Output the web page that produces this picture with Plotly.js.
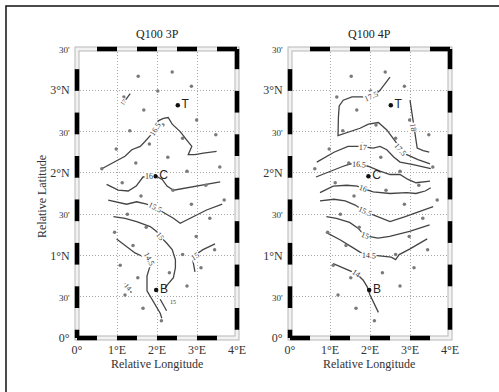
<!DOCTYPE html>
<html>
<head>
<meta charset="utf-8">
<script src="https://cdn.plot.ly/plotly-3.0.1.min.js"></script>
<style>html,body{margin:0;padding:0;background:#fff;}#chart{width:499px;height:392px;}</style>
</head>
<body>
<div id="chart"></div>
<script>
// ---------- data ----------
const lonTicks = [0, 1, 2, 3, 4];
const lonLabels = ['0°', '1°E', '2°E', '3°E', '4°E'];
const latTicks = [0, 0.5, 1, 1.5, 2, 2.5, 3, 3.5];
const latLabels = ['0°', "30'", '1°N', "30'", '2°N', "30'", '3°N', "30'"];

const panelTitles = ['Q100 3P', 'Q100 4P'];

// observation stations (same network in both panels)
const stationLon = [1.53,2.38,2.86,2.02,1.17,1.67,2.99,2.15,1.32,3.47,1.81,0.98,2.27,1.47,3.57,2.75,1.13,3.22,2.40,1.60,2.86,3.68,1.26,3.32,0.94,1.73,2.98,1.40,2.64,3.44,1.08,3.10,2.31,1.52,2.75,1.20,1.65,2.11,2.64,0.62];
const stationLat = [3.17,3.22,3.05,2.99,2.92,2.76,2.64,2.58,2.51,2.46,2.35,2.29,2.19,2.12,2.07,2.02,1.88,1.85,1.79,1.72,1.62,1.67,1.50,1.45,1.28,1.34,1.23,1.12,1.01,1.07,0.88,0.85,0.79,0.73,0.63,0.52,0.36,0.21,2.42,2.05];

// named sites
const siteNames = ['T', 'C', 'B'];
const siteLon = [2.52, 1.96, 1.98];
const siteLat = [2.82, 1.96, 0.58];

// ---- Q100 3P contours ----
const p3_c165_lon = [0.62,0.91,1.2,1.37,1.58,1.7,1.83,1.95,2.03,2.16,2.28,2.38,2.58,2.74,2.87,2.78,2.95,3.16,3.49];
const p3_c165_lat = [2.05,2.12,2.2,2.28,2.32,2.38,2.45,2.53,2.63,2.66,2.67,2.59,2.5,2.4,2.32,2.22,2.22,2.24,2.26];
const p3_c16_lon = [0.74,1.03,1.28,1.48,1.65,1.98,2.13,2.25,2.41,2.9,3.58];
const p3_c16_lat = [1.86,1.79,1.78,1.84,1.95,1.96,1.92,1.84,1.79,1.83,1.89];
const p3_c155_lon = [0.78,1.03,1.24,1.49,1.74,1.95,2.2,2.41,2.58,2.91,3.24,3.63];
const p3_c155_lat = [1.67,1.64,1.62,1.65,1.62,1.58,1.51,1.45,1.39,1.47,1.55,1.62];
const p3_c15_lon = [0.91,1.2,1.49,1.83,1.99,2.08,2.24,2.38,2.46,2.46,2.41,2.28,2.2];
const p3_c15_lat = [1.47,1.45,1.41,1.35,1.29,1.23,1.15,1.07,0.95,0.85,0.73,0.65,0.61];
const p3_c15b_lon = [2.08,2.24];
const p3_c15b_lat = [0.47,0.33];
const p3_c15c_lon = [3.45,3.15,2.88,2.9,2.95];
const p3_c15c_lat = [1.14,1.07,0.98,0.91,0.8];
const p3_c145_lon = [0.99,1.23,1.45,1.63,1.79,1.83,1.75,1.75,1.91,2.08,2.12];
const p3_c145_lat = [1.2,1.11,1.03,0.99,0.96,0.88,0.75,0.57,0.43,0.3,0.24];
const p3_c14_lon = [1.2,1.28,1.36];
const p3_c14_lat = [0.66,0.6,0.55];
const p3_c17_lon = [1.12,1.33];
const p3_c17_lat = [2.82,2.96];
// contour labels: text, lon, lat
const p3_labText = ['16.5','16','15.5','15','14.5','15','15','14','17'];
const p3_labLon  = [1.95,1.79,1.95,2.08,1.79,2.95,2.41,1.28,1.16];
const p3_labLat  = [2.53,1.955,1.58,1.23,0.96,0.99,0.44,0.61,2.86];

// ---- Q100 4P contours ----
const p4_c175_lon = [2.5,2.25,2.08,1.83,1.55,1.33,1.23,1.21,1.2,1.38,1.75,1.96,2.21,2.42,2.55,2.68,2.75,2.92,3.2,3.5];
const p4_c175_lat = [3.16,3.0,2.93,2.92,2.92,2.88,2.81,2.67,2.45,2.48,2.54,2.59,2.61,2.52,2.44,2.35,2.28,2.22,2.16,2.11];
const p4_c18_lon = [3.0,3.04,3.08,3.14,3.18,3.33,3.48];
const p4_c18_lat = [2.88,2.75,2.62,2.42,2.3,2.27,2.25];
const p4_c17_lon = [0.67,1.1,1.45,1.75,2.08,2.25,2.42,2.6,2.75,3.08,3.52];
const p4_c17_lat = [2.13,2.25,2.32,2.32,2.3,2.32,2.28,2.19,2.13,2.1,2.05];
const p4_c165_lon = [0.65,1.0,1.33,1.52,1.7,1.95,2.25,2.5,2.75,2.95,3.15,3.5];
const p4_c165_lat = [1.95,2.02,2.08,2.11,2.1,2.08,2.02,1.98,1.98,1.92,1.88,1.9];
const p4_c16_lon = [0.75,1.08,1.42,1.68,1.83,2.08,2.5,2.92,3.15,3.38,3.52];
const p4_c16_lat = [1.76,1.84,1.85,1.84,1.81,1.77,1.75,1.76,1.75,1.78,1.82];
const p4_c155_lon = [0.75,1.1,1.38,1.63,1.88,2.13,2.5,2.88,3.25,3.58];
const p4_c155_lat = [1.66,1.68,1.66,1.61,1.53,1.48,1.41,1.47,1.53,1.59];
const p4_c15_lon = [0.91,1.16,1.49,1.7,1.87,2.2,2.49,2.99,3.49];
const p4_c15_lat = [1.47,1.45,1.4,1.33,1.24,1.21,1.23,1.29,1.37];
const p4_c145_lon = [0.9,1.25,1.55,1.75,1.95,2.33,2.53,2.64,2.73,3.0,3.25,3.43];
const p4_c145_lat = [1.28,1.19,1.1,1.04,1.01,0.99,0.98,0.95,1.01,1.08,1.15,1.2];
const p4_c14_lon = [1.08,1.38,1.66,1.83,1.93,2.0,2.1,2.21];
const p4_c14_lat = [0.9,0.84,0.78,0.7,0.62,0.52,0.42,0.31];
const p4_labText = ['17.5','17.5','18','17','16.5','16','15.5','15','14.5','14'];
const p4_labLon  = [2.03,2.75,3.08,1.83,1.72,1.83,1.88,1.87,1.97,1.66];
const p4_labLat  = [2.93,2.28,2.55,2.31,2.1,1.81,1.53,1.24,1.0,0.78];

// ---------- styling (not data) ----------
const p3_labAngle = [-58,0,27,50,62,-32,0,50,-54];
const p3_labSize  = [8,8,8,8,8,8,6,7,6];
const p4_labAngle = [-24,48,81,3,3,19,25,20,3,33];
const p4_labSize  = [8,8,8,8,8,8,8,8,8,8];

const SERIF = 'Liberation Serif, Times New Roman, serif';
const SANS = 'Liberation Sans, Arial, sans-serif';
const LINE_COL = '#444';

const panels = [
  { xa: 'x', ya: 'y', contours: [
      [p3_c165_lon,p3_c165_lat],[p3_c16_lon,p3_c16_lat],[p3_c155_lon,p3_c155_lat],
      [p3_c15_lon,p3_c15_lat],[p3_c15b_lon,p3_c15b_lat],[p3_c15c_lon,p3_c15c_lat],
      [p3_c145_lon,p3_c145_lat],[p3_c14_lon,p3_c14_lat],[p3_c17_lon,p3_c17_lat]],
    lab: [p3_labText,p3_labLon,p3_labLat,p3_labAngle,p3_labSize] },
  { xa: 'x2', ya: 'y2', contours: [
      [p4_c175_lon,p4_c175_lat],[p4_c18_lon,p4_c18_lat],[p4_c17_lon,p4_c17_lat],
      [p4_c165_lon,p4_c165_lat],[p4_c16_lon,p4_c16_lat],[p4_c155_lon,p4_c155_lat],
      [p4_c15_lon,p4_c15_lat],[p4_c145_lon,p4_c145_lat],[p4_c14_lon,p4_c14_lat]],
    lab: [p4_labText,p4_labLon,p4_labLat,p4_labAngle,p4_labSize] }
];

const traces = [];
const annotations = [];
panels.forEach(p => {
  p.contours.forEach(c => {
    traces.push({ type: 'scatter', mode: 'lines', x: c[0], y: c[1], xaxis: p.xa, yaxis: p.ya,
      line: { color: LINE_COL, width: 1.3 }, hoverinfo: 'skip', showlegend: false });
  });
  traces.push({ type: 'scatter', mode: 'markers', x: stationLon, y: stationLat, xaxis: p.xa, yaxis: p.ya,
    marker: { size: 3.5, color: '#7a7a7a' }, showlegend: false, hoverinfo: 'skip', cliponaxis: false });
  traces.push({ type: 'scatter', mode: 'markers+text', x: siteLon, y: siteLat, text: siteNames,
    textposition: 'middle right', xaxis: p.xa, yaxis: p.ya,
    textfont: { family: SANS, size: 12, color: '#222' },
    marker: { size: 4.5, color: '#111' }, showlegend: false, hoverinfo: 'skip' });
  const [t, lx, ly, ang, sz] = p.lab;
  t.forEach((s, i) => {
    annotations.push({ text: s, x: lx[i], y: ly[i], xref: p.xa, yref: p.ya, showarrow: false,
      textangle: ang[i], bgcolor: 'white', borderpad: 0,
      font: { family: SERIF, size: sz[i], color: '#333' } });
  });
});

// panel titles & axis titles
const titleX = [157/499, 369/499];
panelTitles.forEach((s, i) => {
  annotations.push({ text: s, x: titleX[i], y: 1 - 34/392, xref: 'paper', yref: 'paper', showarrow: false,
    xanchor: 'center', yanchor: 'middle', font: { family: SERIF, size: 12, color: '#222' } });
  annotations.push({ text: 'Relative Longitude', x: titleX[i], y: 1 - 364/392, xref: 'paper', yref: 'paper',
    showarrow: false, xanchor: 'center', yanchor: 'middle', font: { family: SERIF, size: 12, color: '#333' } });
});
annotations.push({ text: 'Relative Latitude', x: 42/499, y: 1 - 197/392, xref: 'paper', yref: 'paper',
  showarrow: false, xanchor: 'center', yanchor: 'middle', textangle: -90,
  font: { family: SERIF, size: 12, color: '#333' } });

// ---------- map frame (decoration) ----------
const LON_MAX = 4, LAT_MAX = 3.5;
const shapes = [];
shapes.push({ type: 'rect', xref: 'paper', yref: 'paper', x0: 6/499, x1: 1.05, y0: -0.05, y1: 1 - 6/392,
  line: { color: '#111', width: 1.5 } });
[['x domain','y domain'],['x2 domain','y2 domain']].forEach(([xr, yr]) => {
  shapes.push({ type: 'rect', xref: xr, yref: yr, x0: 0, x1: 1, y0: 0, y1: 1, line: { color: '#b8b8b8', width: 5 }, layer: 'above' });
  shapes.push({ type: 'rect', xref: xr, yref: yr, x0: 0, x1: 1, y0: 0, y1: 1, line: { color: '#f2f2f2', width: 3 }, layer: 'above' });
  const blk = { color: '#000', width: 4.5 };
  for (let k = 0; k < 8; k++) {
    const a = k * 0.5 / LON_MAX, b = (k + 1) * 0.5 / LON_MAX;
    const yEdge = (k % 2 === 0) ? 0 : 1;
    shapes.push({ type: 'line', xref: xr, yref: yr, x0: a, x1: b, y0: yEdge, y1: yEdge, line: blk, layer: 'above' });
  }
  const v0 = 0.1, vs = 0.263;
  const bounds = [0];
  for (let v = v0; v < LAT_MAX; v += vs) bounds.push(v);
  bounds.push(LAT_MAX);
  for (let k = 0; k < bounds.length - 1; k++) {
    const a = bounds[k] / LAT_MAX, b = bounds[k + 1] / LAT_MAX;
    const xEdge = (k % 2 === 0) ? 0 : 1;
    shapes.push({ type: 'line', xref: xr, yref: yr, x0: xEdge, x1: xEdge, y0: a, y1: b, line: blk, layer: 'above' });
  }
});

// ---------- axes ----------
const yDom = [1 - 338/392, 1 - 49/392];
const GRID = { showgrid: true, gridcolor: '#a8a8a8', griddash: '1px,2px', gridwidth: 1, zeroline: false, showline: false };
function xAxis(dom, anchor) {
  return Object.assign({ domain: dom, anchor: anchor, range: [0, LON_MAX], tickvals: lonTicks, ticktext: lonLabels,
    ticks: 'outside', ticklen: 1, tickcolor: 'rgba(0,0,0,0)',
    tickfont: { family: SERIF, size: 12, color: '#333' }, fixedrange: true }, GRID);
}
function yAxis(anchor) {
  return Object.assign({ domain: yDom, anchor: anchor, range: [0, LAT_MAX], tickvals: latTicks,
    ticktext: latLabels.map(s => s.indexOf("'") >= 0 ? '<span style="font-size:9px">' + s + '</span>' : s),
    ticks: 'outside', ticklen: 4, tickcolor: 'rgba(0,0,0,0)',
    tickfont: { family: SERIF, size: 12, color: '#333' }, fixedrange: true }, GRID);
}

const layout = {
  width: 499, height: 392, margin: { l: 0, r: 0, t: 0, b: 0 },
  paper_bgcolor: '#fff', plot_bgcolor: '#fff', showlegend: false,
  xaxis: xAxis([77/499, 237/499], 'y'),
  yaxis: yAxis('x'),
  xaxis2: xAxis([290/499, 450/499], 'y2'),
  yaxis2: yAxis('x2'),
  annotations: annotations, shapes: shapes
};

Plotly.newPlot('chart', traces, layout, { staticPlot: true, displayModeBar: false });
</script>
</body>
</html>
